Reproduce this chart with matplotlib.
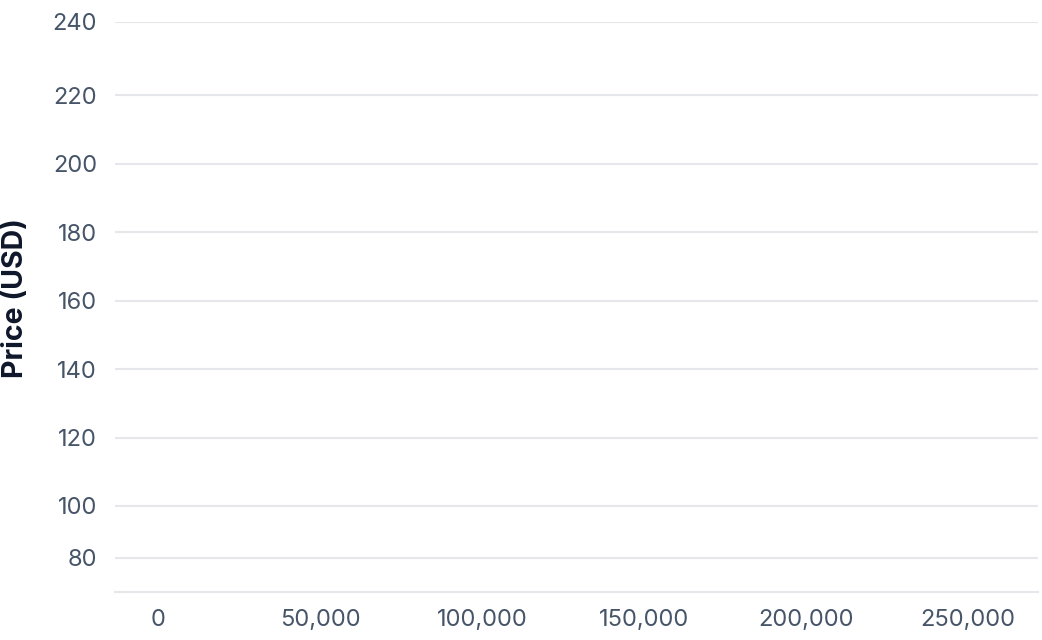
import numpy as np
import matplotlib
matplotlib.use("Agg")
import matplotlib.pyplot as plt
from matplotlib.ticker import FixedLocator, FuncFormatter

# ---- data (chart has no plotted points) ----
volumes = []            # x values (none drawn)
prices = []             # y values (none drawn)
y_ticks = [80, 100, 120, 140, 160, 180, 200, 220, 240]
x_ticks = [0, 50000, 100000, 150000, 200000, 250000]
y_label = "Price (USD)"

# ---- layout / style ----
W, H, DPI = 1042, 640, 100
grid_color = "#e5e7eb"
tick_color = "#475569"
label_color = "#0f172a"
font = ["Inter", "DejaVu Sans"]

# piecewise-linear y scale (value -> pixel height above axis bottom)
knot_vals = np.array([70.0, 80.0, 100.0, 220.0, 240.0])
knot_pix = np.array([0.0, 34.3, 86.0, 496.7, 570.0])

def fwd(v):
    v = np.asarray(v, dtype=float)
    return np.where(v < knot_vals[0], knot_pix[0] + (v - knot_vals[0]) * 3.43,
           np.where(v > knot_vals[-1], knot_pix[-1] + (v - knot_vals[-1]) * 3.67,
                    np.interp(v, knot_vals, knot_pix)))

def inv(p):
    p = np.asarray(p, dtype=float)
    return np.where(p < knot_pix[0], knot_vals[0] + (p - knot_pix[0]) / 3.43,
           np.where(p > knot_pix[-1], knot_vals[-1] + (p - knot_pix[-1]) / 3.67,
                    np.interp(p, knot_pix, knot_vals)))

plt.rcParams["font.family"] = font
fig = plt.figure(figsize=(W / DPI, H / DPI), dpi=DPI)
L, R, T, B = 115, 1038, 22, 592
ax = fig.add_axes([L / W, (H - B) / H, (R - L) / W, (B - T) / H])

ax.scatter(volumes, prices)

ax.set_yscale("function", functions=(fwd, inv))
ax.set_ylim(70, 240)
x0_px, per50k = 158.5, 161.9
ax.set_xlim(-(x0_px - L) / per50k * 50000, (R - x0_px) / per50k * 50000)

ax.yaxis.set_major_locator(FixedLocator(y_ticks))
ax.yaxis.set_minor_locator(FixedLocator([]))
ax.xaxis.set_major_locator(FixedLocator(x_ticks))
ax.xaxis.set_major_formatter(FuncFormatter(lambda v, p: f"{int(round(v)):,}"))
ax.yaxis.set_major_formatter(FuncFormatter(lambda v, p: f"{int(round(v))}"))

ax.grid(axis="y", color=grid_color, linewidth=1.5)
ax.set_axisbelow(True)
for s in ["top", "right", "left"]:
    ax.spines[s].set_visible(False)
ax.spines["bottom"].set_color(grid_color)
ax.spines["bottom"].set_linewidth(1.5)

ax.tick_params(axis="both", length=0, labelsize=17, labelcolor=tick_color)
ax.tick_params(axis="y", pad=13)
ax.tick_params(axis="x", pad=12)

ax.set_ylabel(y_label, fontsize=20.5, fontweight="bold", color=label_color)
ax.yaxis.set_label_coords((29 - L) / (R - L), (B - 298) / (B - T))

fig.savefig("out.png", dpi=DPI)
